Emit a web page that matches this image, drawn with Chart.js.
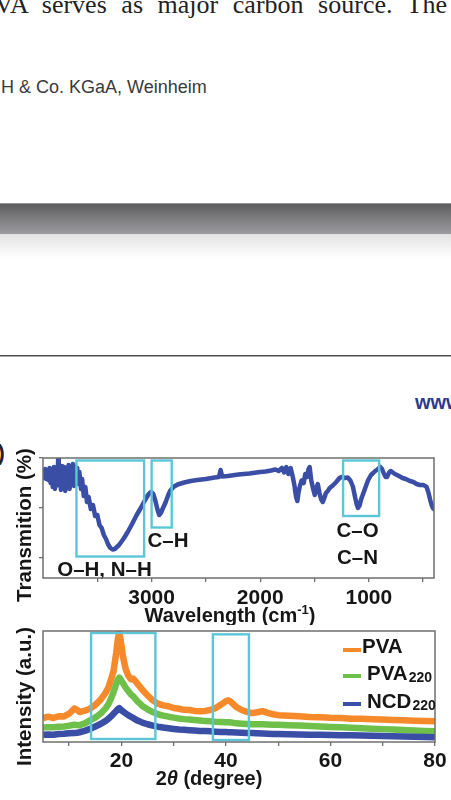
<!DOCTYPE html>
<html>
<head>
<meta charset="utf-8">
<script src="https://cdn.jsdelivr.net/npm/chart.js@4.4.1/dist/chart.umd.min.js"></script>
<style>
  body { margin:0; width:451px; height:800px; overflow:hidden; background:#fff; position:relative; font-family:"Liberation Sans", Arial, sans-serif; }
  .abs { position:absolute; white-space:nowrap; }
  .bodytext { left:-20px; top:-8px; width:467px; font:26px/26px "Liberation Serif", "Times New Roman", serif; color:#222; text-align:justify; text-align-last:justify; }
  .pub { left:1px; top:77px; font:18px/20px "Liberation Sans", Arial, sans-serif; color:#3a3a3a; }
  .band { left:0; top:203px; width:451px; height:31px; background:linear-gradient(to bottom, #b4b4b4 0px, #5d5d60 1.5px, #7a7a7d 45%, #9c9ca0 100%); }
  .fade { left:0; top:234px; width:451px; height:24px; background:linear-gradient(to bottom, #e2e2e2, #ffffff); }
  .rule { left:0; top:355px; width:451px; height:1px; background:#4a4a4a; border-bottom:1px solid #aaa; }
  .www { left:415px; top:391px; font:bold 20px/22px "Liberation Sans", Arial, sans-serif; color:#2b3a8c; }
  .panel { left:-16px; top:440px; font:bold 22px/26px "Liberation Sans", Arial, sans-serif; color:#222; }
  .chartbox { position:absolute; left:0; width:451px; }
</style>
</head>
<body>
<div class="abs bodytext">PVA serves as major carbon source. The</div>
<div class="abs pub">H &amp; Co. KGaA, Weinheim</div>
<div class="abs band"></div>
<div class="abs fade"></div>
<div class="abs rule"></div>
<div class="abs www">www</div>
<div class="abs panel">b)</div>

<div class="chartbox" style="top:440px;height:185px"><canvas id="ftir"></canvas></div>
<div class="chartbox" style="top:625px;height:175px"><canvas id="xrd"></canvas></div>

<script>
// ---- FTIR data (wavenumber cm-1, transmission a.u.) ----
const ftirWavenumber = [
  4000,3990,3980,3970,3960,3950,3940,3930,3920,3910,
  3900,3890,3880,3870,3860,3855,3845,3835,3825,3815,
  3805,3795,3785,3775,3765,3755,3745,3735,3725,3715,
  3705,3695,3685,3675,3665,3650,3640,3625,3610,3595,
  3580,3560,3540,3520,3500,3480,3460,3440,3420,3400,
  3380,3360,3340,3300,3260,3220,3180,3140,3100,3060,
  3030,3005,2985,2965,2945,2930,2915,2895,2870,2850,
  2830,2800,2760,2700,2640,2580,2500,2420,2380,2365,
  2350,2300,2200,2100,2000,1950,1900,1860,1830,1800,
  1780,1760,1740,1720,1700,1685,1670,1658,1648,1637,
  1620,1600,1585,1570,1555,1545,1530,1515,1498,1485,
  1470,1455,1440,1424,1410,1395,1378,1360,1332,1300,
  1270,1252,1220,1194,1170,1147,1125,1110,1100,1085,
  1070,1053,1030,1006,980,960,941,915,895,879,
  860,845,833,815,800,786,760,740,714,690,
  660,622,590,560,530,500,480,468,450,435,
  422,410,400
];
const ftirTransmission = [
  2.70,2.60,2.78,2.58,2.74,2.56,2.80,2.50,2.76,2.42,
  2.82,2.38,2.78,2.45,2.99,2.50,2.80,2.36,2.84,2.40,
  2.82,2.34,2.80,2.42,2.86,2.38,2.82,2.46,2.88,2.44,
  2.84,2.52,2.80,2.48,2.72,2.38,2.58,2.24,2.42,2.12,
  2.22,1.98,2.06,1.84,1.86,1.66,1.60,1.46,1.38,1.27,
  1.20,1.17,1.18,1.26,1.38,1.52,1.68,1.85,2.00,2.16,
  2.27,2.32,2.28,2.14,1.96,1.86,1.90,2.00,2.12,2.24,
  2.34,2.42,2.47,2.51,2.54,2.56,2.58,2.61,2.62,2.76,
  2.63,2.64,2.67,2.69,2.72,2.73,2.75,2.77,2.74,2.80,
  2.71,2.82,2.68,2.80,2.62,2.45,2.22,2.14,2.30,2.42,
  2.55,2.50,2.68,2.62,2.78,2.82,2.55,2.40,2.26,2.40,
  2.48,2.30,2.18,2.12,2.20,2.30,2.34,2.40,2.45,2.52,
  2.60,2.62,2.60,2.61,2.55,2.43,2.20,2.06,2.00,2.05,
  2.18,2.28,2.42,2.56,2.66,2.70,2.74,2.78,2.82,2.78,
  2.68,2.62,2.62,2.70,2.74,2.72,2.68,2.66,2.63,2.60,
  2.58,2.54,2.52,2.48,2.46,2.46,2.44,2.42,2.30,2.16,
  2.06,2.00,1.98
];
const ftirTickValues = [3500, 3000, 2500, 2000, 1500, 1000, 500];
const ftirTickLabels = [3000, 2000, 1000];
const ftirYTicks = [1, 2, 3];
// highlighted bands: [from cm-1, to cm-1, top, bottom]
const ftirBands = [[3692, 3069, 2.95, 1.03], [3000, 2815, 2.95, 1.61], [1237, 905, 2.95, 1.84]];
const ftirBandLabels = ['O–H, N–H', 'C–H', 'C–O', 'C–N'];

// ---- XRD data (2theta deg, intensity a.u.) ----
const xrdAngle = [5,6,7,8,9,10,11,11.5,12,13,14,15,16,17,17.5,18,18.5,19,19.3,19.6,19.9,20.3,20.8,21.3,21.8,22.3,23,23.5,24,
  25,26,27,28,29,30,31,32,33,34,35,36,37,38,39,40,40.5,41,42,43,44,45,46,47,48,49,50,
  52,54,56,58,60,62,64,66,68,70,72,74,76,78,80];
const xrdPVA = [21.5,22.8,21.6,23.2,23.0,25.5,30.2,29.0,27.0,28.2,30.0,33.5,38.0,44.5,49,56,64,80,92,99,90,77,66,60,56.5,57,53,50,47,
  42,37.5,34.5,33,32.2,30.6,30.0,29.0,28.8,28.0,27.8,28.0,28.8,30.5,33.5,36.8,37.5,36.0,31.5,28.8,27.2,26.0,26.8,27.8,26.2,25.0,24.2,
  23.6,23.2,22.6,22.3,21.8,21.6,21.0,20.9,20.5,20.2,19.9,19.6,19.2,18.9,18.6];
const xrdPVA220 = [13.0,13.4,13.2,13.8,14.0,14.6,15.6,15.3,15.2,16.8,19.5,22.0,25.5,30.5,34,39,45,52,56,58,56,53,49,46,43,41,37,35,32.5,
  29.5,27,25,23.8,22.8,22.0,21.2,20.6,20.2,19.8,19.4,19.0,18.6,18.2,18.0,17.9,17.8,17.5,16.8,16.5,16.3,16.0,16.0,15.9,15.7,15.6,15.5,
  15.2,14.8,14.4,14.0,13.6,13.2,12.8,12.4,12.0,11.6,11.2,10.8,10.4,10.0,9.6];
const xrdNCD220 = [6.5,6.8,6.6,7.2,7.4,7.8,8.2,8.4,8.8,10.0,11.8,14.0,16.2,19.0,20.8,23.0,25.5,28.0,29.5,30.5,29.2,27.5,25.8,24.2,22.8,21.5,19.5,18.6,17.5,
  16.0,14.8,13.8,13.0,12.4,11.8,11.3,11.0,10.6,10.3,10.0,9.8,9.6,9.3,9.1,8.9,8.8,8.7,8.5,8.3,8.2,8.0,7.8,7.7,7.5,7.3,7.1,
  6.9,6.8,6.6,6.5,6.3,6.1,6.0,5.8,5.6,5.4,5.2,5.0,4.8,4.6,4.3];
const xrdTickValues = [10, 20, 30, 40, 50, 60, 70, 80];
const xrdTickLabels = [20, 40, 60, 80];
const xrdSeries = ['PVA', 'PVA220', 'NCD220'];
const xrdBands = [[14.2, 26.5, 98.2, 2.7], [37.5, 44.4, 97, 1.8]];

const CYAN = '#5cc6d8';
const FRAME = '#6f6f6f';
const INK = '#161616';
const BLUE = '#3a4ea6';
const ORANGE = '#f6892a';
const GREEN = '#6fc04b';
const FONT = '"Liberation Sans", Arial, sans-serif';

function toPoints(xs, ys) { return xs.map((v, i) => ({ x: v, y: ys[i] })) }

function drawRuns(ctx, runs, cx, base) {
  let total = 0;
  runs.forEach(r => { ctx.font = r.font; r.w = ctx.measureText(r.t).width; total += r.w });
  let x = cx - total / 2;
  ctx.textAlign = 'left';
  ctx.textBaseline = 'alphabetic';
  runs.forEach(r => { ctx.font = r.font; ctx.fillText(r.t, x, base + (r.dy || 0)); x += r.w });
}

function drawFrame(chart) {
  const { ctx, chartArea: a } = chart;
  ctx.save();
  ctx.strokeStyle = FRAME; ctx.lineWidth = 1.5;
  ctx.strokeRect(a.left, a.top, a.right - a.left, a.bottom - a.top);
  ctx.restore();
}

function drawBands(chart, bands) {
  const { ctx, scales: { x, y } } = chart;
  ctx.save();
  ctx.strokeStyle = CYAN; ctx.lineWidth = 2.4;
  bands.forEach(b => {
    const x1 = x.getPixelForValue(b[0]), x2 = x.getPixelForValue(b[1]);
    const y1 = y.getPixelForValue(b[2]), y2 = y.getPixelForValue(b[3]);
    ctx.strokeRect(Math.min(x1, x2), Math.min(y1, y2), Math.abs(x2 - x1), Math.abs(y2 - y1));
  });
  ctx.restore();
}

const B20 = 'bold 20.5px ' + FONT;

// ===== FTIR =====
const ftirDeco = {
  id: 'ftirDeco',
  afterDatasetsDraw(chart) {
    const { ctx, scales: { x, y } } = chart;
    drawBands(chart, ftirBands);
    ctx.save();
    ctx.fillStyle = INK;
    const [oh, ch, co, cn] = ftirBandLabels;
    drawRuns(ctx, [{ t: oh, font: B20 }], x.getPixelForValue(3434), y.getPixelForValue(0.64));
    drawRuns(ctx, [{ t: ch, font: B20 }], x.getPixelForValue(2849), y.getPixelForValue(1.22));
    drawRuns(ctx, [{ t: co, font: B20 }], x.getPixelForValue(1104), y.getPixelForValue(1.42));
    drawRuns(ctx, [{ t: cn, font: B20 }], x.getPixelForValue(1104), y.getPixelForValue(0.88));
    ctx.restore();
  },
  afterDraw(chart) {
    const { ctx, chartArea: a } = chart;
    drawFrame(chart);
    ctx.save();
    ctx.fillStyle = INK;
    drawRuns(ctx, [
      { t: 'Wavelength (cm', font: 'bold 20px ' + FONT },
      { t: '-1', font: 'bold 13px ' + FONT, dy: -8 },
      { t: ')', font: 'bold 20px ' + FONT }
    ], a.left + 187, a.bottom + 44);
    ctx.translate(a.left - 12, (a.top + a.bottom) / 2 + 7);
    ctx.rotate(-Math.PI / 2);
    drawRuns(ctx, [{ t: 'Transmition (%)', font: B20 }], 0, 0);
    ctx.restore();
  }
};

new Chart(document.getElementById('ftir'), {
  type: 'line',
  data: {
    datasets: [{
      label: 'FTIR',
      data: toPoints(ftirWavenumber, ftirTransmission),
      borderColor: BLUE, borderWidth: 4.5, pointRadius: 0, tension: 0,
      borderJoinStyle: 'round', borderCapStyle: 'round'
    }]
  },
  options: {
    responsive: true, maintainAspectRatio: false, animation: false, devicePixelRatio: 1,
    layout: { padding: { top: 18, right: 17, left: 0, bottom: 0 } },
    plugins: { legend: { display: false }, tooltip: { enabled: false } },
    scales: {
      x: {
        type: 'linear', reverse: true, min: 400, max: 4000,
        afterBuildTicks: s => { s.ticks = ftirTickValues.map(v => ({ value: v })) },
        afterFit: s => { s.height = 47 },
        border: { display: false },
        grid: { drawOnChartArea: false, drawTicks: true, tickLength: 4, color: FRAME, lineWidth: 1.3 },
        ticks: { autoSkip: false, maxRotation: 0, padding: 4, color: INK,
          font: { family: FONT, size: 21, weight: 'bold' },
          callback: v => ftirTickLabels.includes(v) ? String(v) : '' }
      },
      y: {
        min: 0.6, max: 3.0,
        afterBuildTicks: s => { s.ticks = ftirYTicks.map(v => ({ value: v })) },
        afterFit: s => { s.width = 43 },
        border: { display: false },
        grid: { drawOnChartArea: false, drawTicks: true, tickLength: 4, color: FRAME, lineWidth: 1.3 },
        ticks: { display: false }
      }
    }
  },
  plugins: [ftirDeco]
});

// ===== XRD =====
const xrdDeco = {
  id: 'xrdDeco',
  afterDatasetsDraw(chart) {
    drawBands(chart, xrdBands);
  },
  afterDraw(chart) {
    const { ctx, chartArea: a } = chart;
    drawFrame(chart);
    ctx.save();
    ctx.fillStyle = INK;
    // legend
    const rows = [
      { color: ORANGE, main: 'PVA', sub: '', lineY: 19, base: 22, tx: 319 },
      { color: GREEN, main: 'PVA', sub: '220', lineY: 45, base: 49, tx: 324 },
      { color: BLUE, main: 'NCD', sub: '220', lineY: 73, base: 77, tx: 324 }
    ];
    rows.forEach(r => {
      ctx.fillStyle = r.color;
      ctx.fillRect(a.left + 300, a.top + r.lineY - 2, 18, 4);
      ctx.fillStyle = INK;
      ctx.textAlign = 'left'; ctx.textBaseline = 'alphabetic';
      ctx.font = B20;
      ctx.fillText(r.main, a.left + r.tx, a.top + r.base);
      if (r.sub) {
        const w = ctx.measureText(r.main).width;
        ctx.font = 'bold 14px ' + FONT;
        ctx.fillText(r.sub, a.left + r.tx + w + 1, a.top + r.base + 2);
      }
    });
    // axis titles
    drawRuns(ctx, [
      { t: '2', font: 'bold 20px ' + FONT },
      { t: 'θ', font: 'italic bold 20px ' + FONT },
      { t: ' (degree)', font: 'bold 20px ' + FONT }
    ], 209, a.bottom + 43);
    ctx.translate(a.left - 12, (a.top + a.bottom) / 2 + 10);
    ctx.rotate(-Math.PI / 2);
    drawRuns(ctx, [{ t: 'Intensity (a.u.)', font: B20 }], 0, 0);
    ctx.restore();
  }
};

const xrdColors = [ORANGE, GREEN, BLUE];
const xrdValues = [xrdPVA, xrdPVA220, xrdNCD220];

new Chart(document.getElementById('xrd'), {
  type: 'line',
  data: {
    datasets: xrdSeries.map((name, i) => ({
      label: name,
      data: toPoints(xrdAngle, xrdValues[i]),
      borderColor: xrdColors[i], borderWidth: 6.5, pointRadius: 0, tension: 0,
      borderJoinStyle: 'round'
    })).reverse()
  },
  options: {
    responsive: true, maintainAspectRatio: false, animation: false, devicePixelRatio: 1,
    layout: { padding: { top: 6, right: 16, left: 0, bottom: 0 } },
    plugins: { legend: { display: false }, tooltip: { enabled: false } },
    scales: {
      x: {
        type: 'linear', min: 5, max: 80,
        afterBuildTicks: s => { s.ticks = xrdTickValues.map(v => ({ value: v })) },
        afterFit: s => { s.height = 58 },
        border: { display: false },
        grid: { drawOnChartArea: false, drawTicks: true, tickLength: 4, color: FRAME, lineWidth: 1.3 },
        ticks: { autoSkip: false, maxRotation: 0, padding: 3, color: INK,
          font: { family: FONT, size: 21, weight: 'bold' },
          callback: v => xrdTickLabels.includes(v) ? String(v) : '' }
      },
      y: {
        min: 0, max: 100,
        afterFit: s => { s.width = 43 },
        border: { display: false },
        grid: { display: false },
        ticks: { display: false }
      }
    }
  },
  plugins: [xrdDeco]
});
</script>
</body>
</html>
